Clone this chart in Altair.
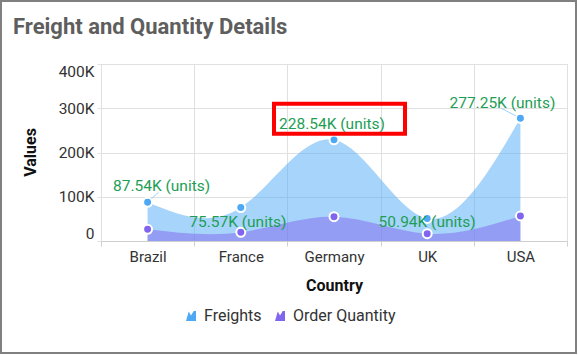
import altair as alt
import pandas as pd

countries = ["Brazil", "France", "Germany", "UK", "USA"]
freights = [87540, 75570, 228540, 50940, 277250]
quantities = [26400, 19700, 54900, 16500, 56500]
series_names = ["Freights", "Order Quantity"]
series_colors = ["#4EA9F5", "#8066EE"]
y_ticks = [0, 100000, 200000, 300000, 400000]

rows = []
for c, f, q in zip(countries, freights, quantities):
    rows.append({"country": c, "series": series_names[0], "value": f,
                 "label": f"{f/1000:.2f}K (units)"})
    rows.append({"country": c, "series": series_names[1], "value": q, "label": ""})
df = pd.DataFrame(rows)

# style: label offsets (px) relative to each freight point
label_offsets = {"Brazil": (14, -16), "France": (-3, 14), "Germany": (-2, -16),
                 "UK": (0, 4), "USA": (-18, -15)}
connector_offsets = {"Brazil": (11, -10), "USA": (-19, -10)}

FONT = "Roboto"
GRID = "#e0e0e0"
LABEL_GREEN = "#1e9e55"
area_icon = "M-1,1 L-0.45,-0.9 L0,-0.1 L0.55,-1 L1,-1 L1,1 Z"
box_path = "M-1,-0.229 L1,-0.229 L1,0.229 L-1,0.229 Z"

x_enc = alt.X(
    "country:N", sort=countries, bandPosition=0.5, title="Country",
    scale=alt.Scale(type="band", paddingInner=0, paddingOuter=0),
    axis=alt.Axis(tickBand="extent", grid=True, gridColor=GRID, domainColor="#cfcfcf",
                  tickColor="#cfcfcf", tickSize=5, labelAngle=0, labelPadding=3,
                  labelFontSize=15, labelColor="#333333", labelFont=FONT,
                  titleFont=FONT, titleFontSize=16, titleFontWeight="bold",
                  titleColor="#111111", titlePadding=13),
)
y_enc = alt.Y(
    "value:Q", stack=None, title="Values",
    scale=alt.Scale(domain=[0, 400000]),
    axis=alt.Axis(values=y_ticks, grid=True, gridColor=GRID, domain=False,
                  tickColor=GRID, tickSize=4, labelPadding=3, labelFlush=True,
                  labelExpr="datum.value == 0 ? '0' : (datum.value / 1000) + 'K'",
                  labelFontSize=15.5, labelColor="#333333", labelFont=FONT,
                  titleFont=FONT, titleFontSize=16, titleFontWeight="bold",
                  titleColor="#111111", titleX=-71, titleY=88, titleBaseline="middle",
                  titleAngle=-90, titleAlign="center"),
)
color_enc = alt.Color(
    "series:N", sort=series_names,
    scale=alt.Scale(domain=series_names, range=series_colors),
    legend=alt.Legend(title=None, orient="none", direction="horizontal",
                      legendX=82, legendY=244, symbolType=area_icon, symbolSize=100,
                      symbolOpacity=1, symbolStrokeWidth=0, labelFontSize=16,
                      labelFont=FONT, labelColor="#333333", labelOffset=5,
                      columnPadding=10, padding=0),
)

base = alt.Chart(df)

areas = base.mark_area(interpolate="natural", opacity=0.5).encode(
    x=x_enc, y=y_enc, color=color_enc)

points = base.mark_point(filled=True, size=80, stroke="white", strokeWidth=2,
                         opacity=1).encode(x=x_enc, y=y_enc, color=color_enc)

layers = [areas]

for c, (ddx, ddy) in connector_offsets.items():
    layers.append(
        base.transform_filter((alt.datum.country == c) & (alt.datum.series == series_names[0]))
        .mark_rule(color="#9fd0fa", strokeWidth=1, x2Offset=ddx, y2Offset=ddy)
        .encode(x=x_enc, y=y_enc, x2="country:N", y2="value:Q")
    )

layers.append(points)

for c, (ddx, ddy) in label_offsets.items():
    layers.append(
        base.transform_filter((alt.datum.country == c) & (alt.datum.series == series_names[0]))
        .mark_text(dx=ddx, dy=ddy, color=LABEL_GREEN, fontSize=15.5, font=FONT,
                   baseline="middle", align="center")
        .encode(x=x_enc, y=y_enc, text="label:N")
    )

red_box = (
    base.transform_filter((alt.datum.country == "Germany") & (alt.datum.series == series_names[0]))
    .mark_point(shape=box_path, size=131 * 131, filled=False, stroke="#ff0000",
                strokeWidth=4, opacity=1, xOffset=5.5, yOffset=-21)
    .encode(x=x_enc, y=y_enc)
)
layers.append(red_box)

frame = alt.Chart(pd.DataFrame({"f": [0]})).mark_rect(
    fillOpacity=0, stroke="#808080", strokeWidth=2
).encode(x=alt.value(-100), x2=alt.value(475), y=alt.value(-63), y2=alt.value(289))
layers.append(frame)

chart = alt.layer(*layers).properties(
    width=466, height=177,
    autosize=alt.AutoSizeParams(type="none"),
    padding={"left": 101, "top": 64, "right": 11, "bottom": 114},
    title=alt.Title("Freight and Quantity Details", anchor="start", frame="group",
                    dx=-88, offset=-56, baseline="alphabetic", fontSize=22,
                    fontWeight="bold", color="#5e5e5e", font=FONT),
).configure_view(stroke=None).configure(font=FONT, background="white")

chart.save("out.html", embed_options={"renderer": "svg", "actions": False})
